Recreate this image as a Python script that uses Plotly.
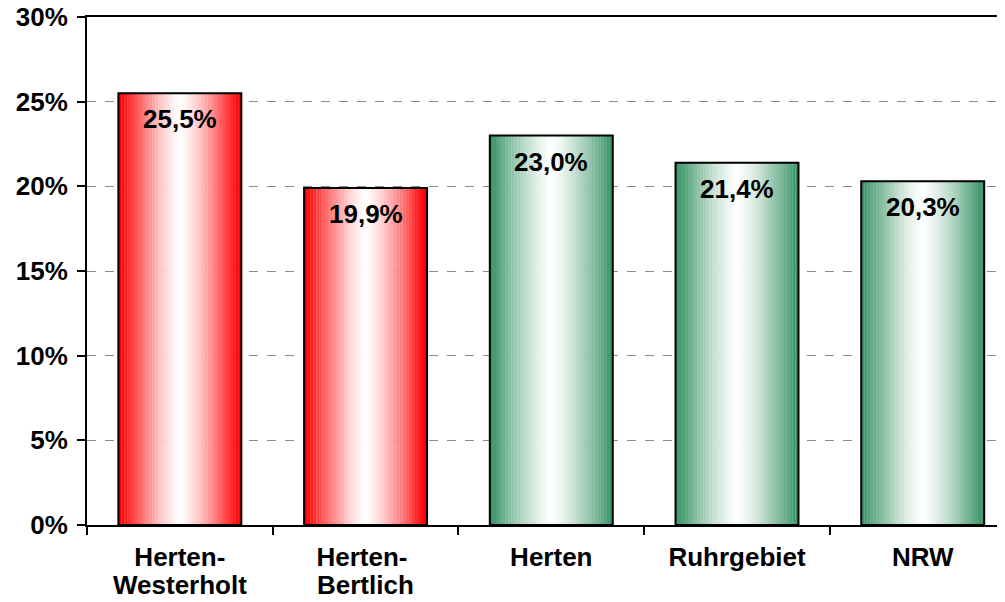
import plotly.graph_objects as go

categories = ["Herten-", "Herten- ", "Herten", "Ruhrgebiet", "NRW"]
second_line = ["Westerholt", "Bertlich", "", "", ""]
values = [25.5, 19.9, 23.0, 21.4, 20.3]
value_labels = ["25,5%", "19,9%", "23,0%", "21,4%", "20,3%"]
groups = ["red", "red", "green", "green", "green"]
y_ticks = [0, 5, 10, 15, 20, 25, 30]
y_tick_labels = ["0%", "5%", "10%", "15%", "20%", "25%", "30%"]

edge_colors = {"red": (255, 0, 0), "green": (60, 150, 104)}
BAR_W = 0.662
N = 40
FONT = "Liberation Sans, Arial, sans-serif"


def mix(c, t):
    return "rgb(%d,%d,%d)" % tuple(round(255 + (ci - 255) * t) for ci in c)


fig = go.Figure()
step = BAR_W / N
for i in range(N):
    d = abs(((i + 0.5) / N) * 2 - 1)
    t = min(1.0, d ** 1.3 * 1.05)
    cols = [mix(edge_colors[g], t) for g in groups]
    fig.add_trace(go.Bar(
        x=categories, y=values,
        width=step * 1.08, offset=-BAR_W / 2 + i * step,
        marker=dict(color=cols, line=dict(width=0)),
        hoverinfo="skip", showlegend=False,
    ))

fig.add_trace(go.Bar(
    x=categories, y=values, width=BAR_W, offset=-BAR_W / 2,
    marker=dict(color="rgba(0,0,0,0)", line=dict(color="black", width=2)),
    showlegend=False,
))

for c, v, lab in zip(categories, values, value_labels):
    fig.add_annotation(x=c, y=v, text="<b>%s</b>" % lab, showarrow=False,
                       yanchor="top", yshift=-9,
                       font=dict(family=FONT, size=26, color="black"))

for c, s in zip(categories, second_line):
    if s:
        fig.add_annotation(x=c, y=0, text="<b>%s</b>" % s, showarrow=False,
                           yanchor="middle", yshift=-60,
                           font=dict(family=FONT, size=26, color="black"))

fig.update_layout(
    width=997, height=594,
    margin=dict(l=79, r=0, t=9, b=77),
    barmode="overlay",
    paper_bgcolor="white", plot_bgcolor="white",
    font=dict(family=FONT, size=26, color="black"),
    xaxis=dict(
        type="category", range=[-0.5, 4.443], automargin=False,
        showline=True, linecolor="black", linewidth=2, mirror=True,
        ticks="outside", tickson="boundaries", ticklen=8, tickcolor="black", tickwidth=1.5,
        tickfont=dict(family=FONT, size=26, color="black", weight="bold"),
        ticklabelstandoff=8,
        showgrid=False,
    ),
    yaxis=dict(
        range=[0, 30], tickmode="array", tickvals=y_ticks, ticktext=y_tick_labels,
        automargin=False, ticklabeloverflow="allow",
        showline=True, linecolor="black", linewidth=2,
        ticks="outside", ticklen=8, tickcolor="black", tickwidth=1.5,
        tickfont=dict(family=FONT, size=26, color="black", weight="bold"),
        ticklabelstandoff=4,
        showgrid=True, gridcolor="#8c8c8c", gridwidth=1, griddash="dash",
        zeroline=False,
    ),
)

fig.write_html("out.html")
